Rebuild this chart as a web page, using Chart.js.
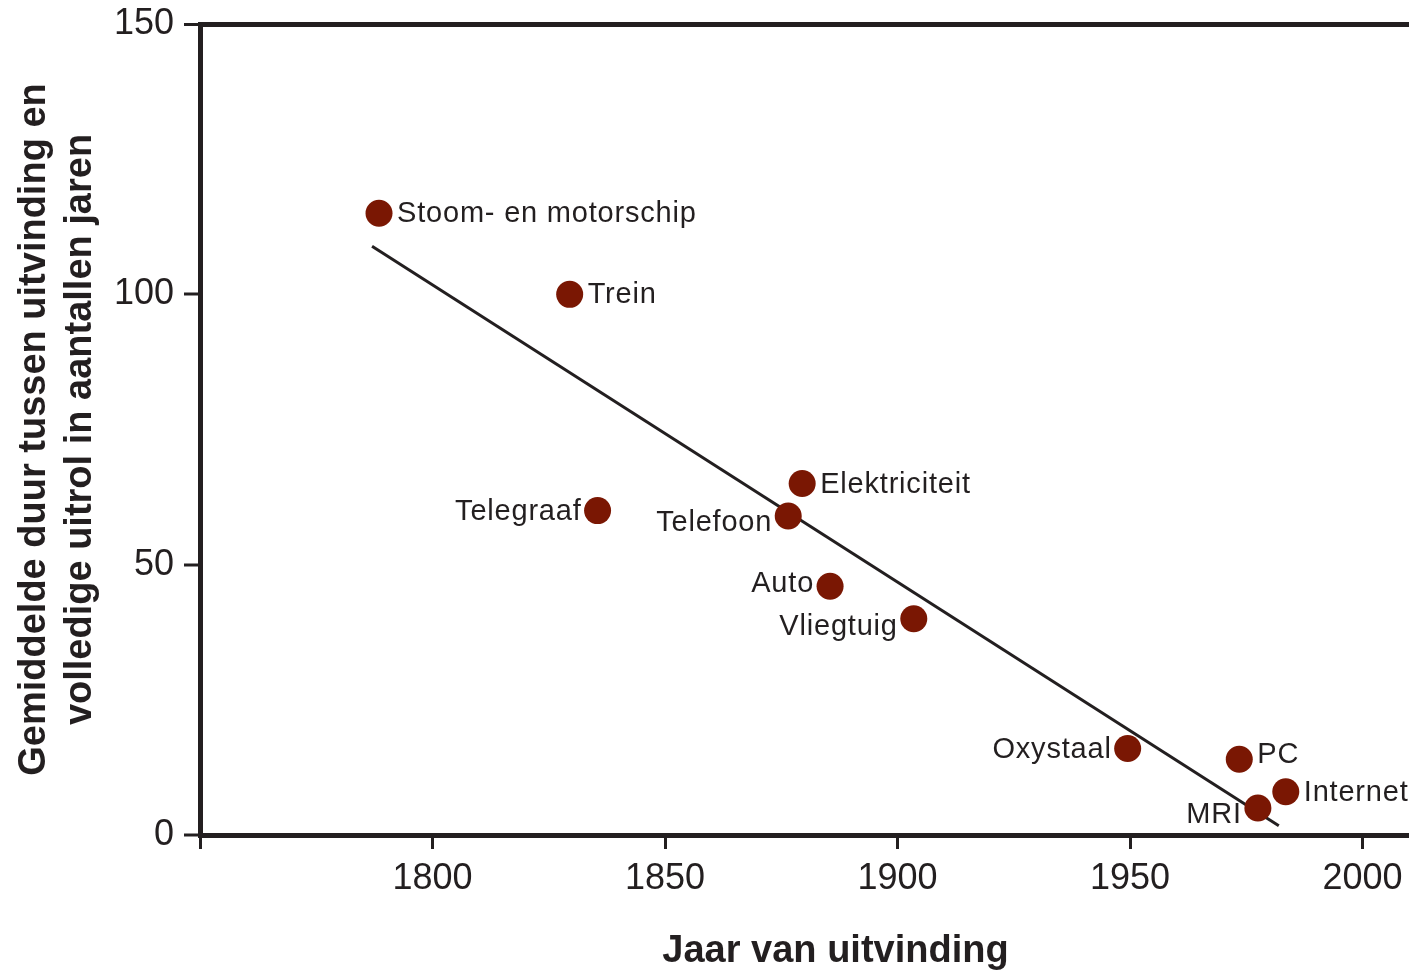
<!DOCTYPE html>
<html lang="nl">
<head>
<meta charset="utf-8">
<script src="https://cdn.jsdelivr.net/npm/chart.js@4.4.0/dist/chart.umd.min.js"></script>
<style>
  html, body { margin: 0; padding: 0; background: #fff; }
  #wrap { width: 1409px; height: 972px; position: relative; }
</style>
</head>
<body>
<div id="wrap"><canvas id="chart"></canvas></div>
<script>
// --- DATA ---
const inventions = ['Stoom- en motorschip', 'Trein', 'Telegraaf', 'Elektriciteit', 'Telefoon', 'Auto', 'Vliegtuig', 'Oxystaal', 'PC', 'Internet', 'MRI'];
const inventionYears = [1788.5, 1829.5, 1835.5, 1879.5, 1876.5, 1885.5, 1903.5, 1949.5, 1973.5, 1983.5, 1977.5];
const adoptionYears = [115, 100, 60, 65, 59, 46, 40, 16, 14, 8, 5];

// regression line end points
const trendYears = [1787, 1982];
const trendValues = [108.9, 1.7];

const xTickValues = [1750, 1800, 1850, 1900, 1950, 2000];
const yTickValues = [0, 50, 100, 150];

const xTitle = 'Jaar van uitvinding';
const yTitle = ['Gemiddelde duur tussen uitvinding en', 'volledige uitrol in aantallen jaren'];

// --- STYLE ---
const INK = '#231f20';
const DOT = '#7a1703';
const FONT = '"Liberation Sans", Arial, sans-serif';

// which side of the dot each label sits on, and a small vertical nudge
const labelPlacement = {
    'Stoom- en motorschip': ['right', 1],
    'Trein': ['right', 1],
    'Telegraaf': ['left', 1],
    'Elektriciteit': ['right', 1],
    'Telefoon': ['left', 7],
    'Auto': ['left', -2],
    'Vliegtuig': ['left', 8],
    'Oxystaal': ['left', 2],
    'PC': ['right', -4],
    'Internet': ['right', 1],
    'MRI': ['left', 7]
};

const pointLabels = {
    id: 'pointLabels',
    afterDatasetsDraw(chart) {
        const ctx = chart.ctx;
        const meta = chart.getDatasetMeta(0);
        ctx.save();
        ctx.font = '29px ' + FONT;
        ctx.letterSpacing = '0.8px';
        ctx.fillStyle = INK;
        ctx.textBaseline = 'middle';
        meta.data.forEach((el, i) => {
            const name = inventions[i];
            const [side, dy] = labelPlacement[name];
            if (side === 'right') {
                ctx.textAlign = 'left';
                ctx.fillText(name, el.x + 18, el.y + dy);
            } else {
                ctx.textAlign = 'right';
                ctx.fillText(name, el.x - 16, el.y + dy);
            }
        });
        ctx.restore();
    }
};

// x-axis title sits a bit right of the plot centre in the original
const xTitlePlugin = {
    id: 'xTitle',
    afterDraw(chart) {
        const ctx = chart.ctx;
        const area = chart.chartArea;
        ctx.save();
        ctx.font = 'bold 38px ' + FONT;
        ctx.fillStyle = INK;
        ctx.textAlign = 'center';
        ctx.textBaseline = 'middle';
        ctx.fillText(xTitle, (area.left + area.right) / 2 + 31, 952);
        ctx.restore();
    }
};

const ctx = document.getElementById('chart').getContext('2d');
new Chart(ctx, {
    type: 'scatter',
    data: {
        datasets: [
            {
                label: 'Uitvindingen',
                data: inventionYears.map((x, i) => ({ x, y: adoptionYears[i] })),
                backgroundColor: DOT,
                borderWidth: 0,
                pointRadius: 13.5,
                pointHoverRadius: 13.5
            },
            {
                type: 'line',
                label: 'Trend',
                data: trendYears.map((x, i) => ({ x, y: trendValues[i] })),
                borderColor: INK,
                borderWidth: 3,
                pointRadius: 0,
                fill: false
            }
        ]
    },
    options: {
        responsive: true,
        maintainAspectRatio: false,
        animation: false,
        layout: { autoPadding: false, padding: { top: 24, right: 0, bottom: 0, left: 0 } },
        plugins: {
            legend: { display: false },
            tooltip: { enabled: false }
        },
        scales: {
            x: {
                type: 'linear',
                min: 1750,
                max: 2010,
                afterBuildTicks: scale => { scale.ticks = xTickValues.map(v => ({ value: v })); },
                afterFit: scale => {
                    scale.height = 137;
                    scale.paddingLeft = 0;
                    scale.paddingRight = 0;
                },
                border: { display: true, color: INK, width: 5 },
                grid: {
                    drawOnChartArea: false,
                    drawTicks: true,
                    tickLength: 14,
                    tickColor: INK,
                    tickWidth: 3
                },
                ticks: {
                    color: INK,
                    font: { family: FONT, size: 36 },
                    padding: 8,
                    maxRotation: 0,
                    callback: v => (v === 1750 ? '' : String(v))
                },
                title: { display: false }
            },
            y: {
                min: 0,
                max: 150,
                afterBuildTicks: scale => { scale.ticks = yTickValues.map(v => ({ value: v })); },
                afterFit: scale => {
                    scale.width = 200;
                    scale.paddingTop = 0;
                    scale.paddingBottom = 0;
                },
                border: { display: true, color: INK, width: 5 },
                grid: {
                    drawOnChartArea: true,
                    color: c => (c.tick && c.tick.value === 150 ? INK : 'rgba(0,0,0,0)'),
                    lineWidth: c => (c.tick && c.tick.value === 150 ? 5 : 0),
                    drawTicks: true,
                    tickLength: 16,
                    tickColor: INK,
                    tickWidth: 3
                },
                ticks: {
                    color: INK,
                    font: { family: FONT, size: 36 },
                    padding: 10
                },
                title: {
                    display: true,
                    text: yTitle,
                    color: INK,
                    font: { family: FONT, size: 38, weight: 'bold', lineHeight: 1.2 },
                    padding: { top: 12, bottom: 0 }
                }
            }
        }
    },
    plugins: [pointLabels, xTitlePlugin]
});
</script>
</body>
</html>
